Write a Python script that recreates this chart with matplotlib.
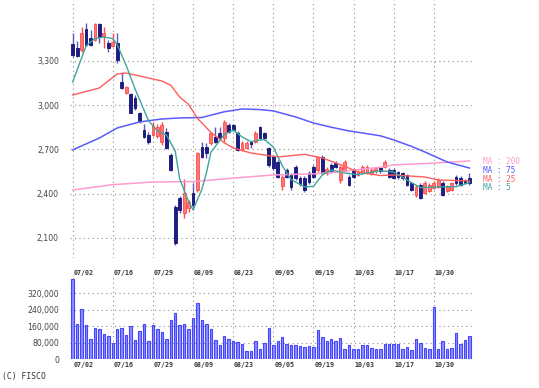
import matplotlib
matplotlib.use("Agg")
import matplotlib.pyplot as plt
import matplotlib.transforms as mtransforms

# daily candles, 2024-07-02 .. 2024-11-12 (90 trading days)
opens = [3418, 3386, 3375, 3515, 3454, 3443, 3551, 3472, 3424, 3402,
         3420, 3159, 3085, 3076, 3047, 2949, 2831, 2798, 2798, 2791,
         2750, 2818, 2662, 2309, 2370, 2268, 2302, 2404, 2424, 2716,
         2716, 2743, 2784, 2811, 2777, 2865, 2865, 2811, 2696, 2709,
         2747, 2750, 2852, 2811, 2709, 2648, 2614, 2451, 2560, 2526,
         2580, 2506, 2506, 2540, 2580, 2560, 2648, 2540, 2594, 2607,
         2492, 2560, 2512, 2560, 2526, 2540, 2540, 2533, 2550, 2570,
         2580, 2560, 2560, 2546, 2540, 2526, 2472, 2390, 2458, 2404,
         2417, 2438, 2444, 2472, 2417, 2424, 2512, 2506, 2492, 2506]
highs = [3488, 3438, 3529, 3556, 3510, 3556, 3556, 3533, 3443, 3488,
         3488, 3227, 3130, 3080, 3069, 2956, 2872, 2820, 2888, 2872,
         2886, 2845, 2675, 2322, 2383, 2499, 2356, 2472, 2682, 2750,
         2741, 2820, 2854, 2854, 2899, 2877, 2872, 2825, 2757, 2757,
         2752, 2825, 2859, 2818, 2716, 2662, 2628, 2526, 2573, 2540,
         2594, 2519, 2519, 2553, 2594, 2655, 2662, 2580, 2607, 2621,
         2594, 2628, 2526, 2573, 2560, 2594, 2594, 2573, 2580, 2580,
         2628, 2573, 2573, 2553, 2546, 2533, 2478, 2458, 2472, 2485,
         2472, 2485, 2506, 2485, 2458, 2478, 2526, 2519, 2499, 2540]
lows = [3329, 3325, 3361, 3402, 3402, 3438, 3420, 3386, 3363, 3395,
        3289, 3108, 3076, 2945, 2967, 2881, 2775, 2736, 2790, 2777,
        2730, 2702, 2553, 2051, 2268, 2234, 2275, 2288, 2411, 2641,
        2641, 2730, 2741, 2768, 2752, 2809, 2825, 2689, 2689, 2702,
        2709, 2743, 2770, 2764, 2580, 2560, 2506, 2424, 2506, 2424,
        2492, 2451, 2411, 2465, 2506, 2546, 2526, 2526, 2540, 2573,
        2472, 2553, 2451, 2506, 2519, 2533, 2533, 2526, 2540, 2540,
        2573, 2506, 2499, 2499, 2492, 2451, 2417, 2377, 2363, 2397,
        2411, 2431, 2438, 2383, 2411, 2417, 2458, 2451, 2465, 2458]
closes = [3341, 3334, 3488, 3409, 3409, 3551, 3461, 3488, 3386, 3431,
          3307, 3115, 3121, 2949, 2979, 2895, 2786, 2752, 2859, 2852,
          2865, 2709, 2560, 2064, 2288, 2404, 2343, 2322, 2675, 2648,
          2675, 2811, 2750, 2777, 2886, 2818, 2831, 2696, 2743, 2743,
          2736, 2811, 2777, 2777, 2594, 2573, 2512, 2512, 2512, 2444,
          2506, 2465, 2424, 2478, 2512, 2648, 2540, 2567, 2546, 2580,
          2580, 2614, 2458, 2512, 2546, 2580, 2577, 2560, 2570, 2550,
          2614, 2512, 2506, 2512, 2506, 2458, 2424, 2444, 2370, 2472,
          2458, 2472, 2492, 2390, 2451, 2472, 2472, 2458, 2472, 2472]
volumes = [388000, 170000, 244000, 165000, 100000, 152000, 145000, 121000, 112000, 78000,
           145000, 152000, 116000, 162000, 92000, 137000, 170000, 89000, 166000, 145000,
           132000, 100000, 189000, 223000, 165000, 171000, 145000, 202000, 275000, 189000,
           170000, 149000, 92000, 68000, 115000, 97000, 89000, 82000, 73000, 40000,
           40000, 89000, 52000, 78000, 154000, 69000, 89000, 108000, 73000, 68000,
           68000, 63000, 58000, 63000, 58000, 141000, 108000, 89000, 97000, 89000,
           105000, 52000, 68000, 52000, 48000, 68000, 68000, 57000, 48000, 48000,
           76000, 76000, 73000, 73000, 48000, 60000, 45000, 97000, 81000, 57000,
           52000, 254000, 52000, 89000, 52000, 57000, 129000, 76000, 94000, 113000]

# moving averages: (bar index, value)
ma5_idx = [0, 2, 3, 5, 7, 9, 10, 12, 14, 17, 19, 21, 23, 24, 26, 27, 29, 30, 31, 34, 36,
           38, 40, 43, 45, 47, 49, 52, 54, 56, 58, 61, 64, 69, 72, 76, 78, 83, 86, 89]
ma5_val = [3157, 3320, 3402, 3452, 3463, 3452, 3410, 3270, 3110, 2895, 2825, 2798, 2690,
           2500, 2345, 2290, 2430, 2540, 2680, 2800, 2831, 2784, 2752, 2768, 2716, 2590,
           2495, 2445, 2448, 2526, 2560, 2540, 2528, 2555, 2546, 2474, 2440, 2446, 2446, 2474]
ma25_idx = [0, 6, 10, 12, 15, 18, 20, 22, 24, 26, 28, 31, 34, 36, 40, 46, 50, 52, 56,
            61, 64, 69, 72, 79, 82, 89]
ma25_val = [3069, 3117, 3212, 3218, 3198, 3178, 3164, 3135, 3055, 3005, 2910, 2815, 2745,
            2709, 2675, 2648, 2660, 2666, 2641, 2585, 2546, 2522, 2526, 2512, 2492, 2485]
ma75_idx = [0, 6, 10, 15, 20, 24, 29, 31, 34, 38, 42, 45, 50, 54, 58, 62, 65, 69, 72, 76,
            79, 84, 89]
ma75_val = [2696, 2777, 2845, 2886, 2906, 2913, 2916, 2932, 2955, 2974, 2970, 2961, 2920,
            2879, 2850, 2825, 2811, 2792, 2764, 2720, 2682, 2614, 2573]
ma200_idx = [0, 9, 18, 27, 36, 45, 54, 61, 64, 69, 72, 80, 89]
ma200_val = [2424, 2460, 2478, 2481, 2504, 2526, 2533, 2550, 2562, 2578, 2594, 2605, 2621]

label_idx = [0, 9, 18, 27, 36, 45, 54, 63, 72, 81]
label_txt = ["07/02", "07/16", "07/29", "08/09", "08/23", "09/05", "09/19", "10/03", "10/17", "10/30"]
price_ticks = [2100, 2400, 2700, 3000, 3300]
vol_ticks = [0, 80000, 160000, 240000, 320000]

up_face, up_edge = "#ff7878", "#ff4a4a"
dn_face, dn_edge = "#1c1c8a", "#12126e"
grid_kw = dict(color="#8e8e8e", linestyle=(0, (1, 3)), linewidth=0.8)

fig = plt.figure(figsize=(5.39, 3.88), dpi=100)
ax = fig.add_axes([70 / 539, 130 / 388, 403 / 539, 258 / 388])
axv = fig.add_axes([70 / 539, 28.7 / 388, 403 / 539, 82.3 / 388])

n = len(closes)
xs = list(range(n))
for i in xs:
    o, h, l, c = opens[i], highs[i], lows[i], closes[i]
    up = c >= o
    ax.vlines(i, l, h, color=up_edge if up else "#5a5ab8", linewidth=1, zorder=2)
    ax.bar(i, max(abs(c - o), 4), bottom=min(o, c), width=0.62,
           color=up_face if up else dn_face, edgecolor=up_edge if up else dn_edge,
           linewidth=0.6, zorder=3)

ax.plot(ma200_idx, ma200_val, color="#ff9ccc", lw=1.1, zorder=4)
ax.plot(ma75_idx, ma75_val, color="#5a5aff", lw=1.1, zorder=4)
ax.plot(ma25_idx, ma25_val, color="#ff5c5c", lw=1.0, zorder=4)
ax.plot(ma5_idx, ma5_val, color="#3fa59c", lw=1.0, zorder=5)

mono = "DejaVu Sans Mono"
ax.text(92, 2614, "MA : 200", color="#ff9ccc", fontsize=5.5, family=mono, va="center", clip_on=False)
ax.text(92, 2556, "MA : 75", color="#5a5aff", fontsize=5.5, family=mono, va="center", clip_on=False)
ax.text(92, 2496, "MA : 25", color="#ff5c5c", fontsize=5.5, family=mono, va="center", clip_on=False)
ax.text(92, 2438, "MA : 5", color="#3fa59c", fontsize=5.5, family=mono, va="center", clip_on=False)

ax.set_xlim(-0.6, 89.8)
ax.set_ylim(1962, 3714)
ax.set_yticks(price_ticks)
ax.set_yticklabels([f"{t:,}" for t in price_ticks], fontsize=5.6, color="#444444")
ax.set_xticks(label_idx)
ax.set_xticklabels([])
ax.grid(True, **grid_kw)
ax.set_axisbelow(True)

axv.bar(xs, volumes, width=0.55, color="#8c8cff", edgecolor="#4646ff", linewidth=0.8, zorder=3)
axv.set_xlim(-0.6, 89.8)
axv.set_ylim(0, 400000)
axv.set_yticks(vol_ticks)
axv.set_yticklabels([f"{t:,}" for t in vol_ticks], fontsize=5.6, color="#444444")
axv.set_xticks(label_idx)
axv.set_xticklabels([])
axv.grid(True, **grid_kw)
axv.set_axisbelow(True)

for a in (ax, axv):
    for s in a.spines.values():
        s.set_visible(False)
    a.tick_params(length=0, pad=8)

trans = mtransforms.blended_transform_factory(axv.transData, axv.transAxes)
for i, t in zip(label_idx, label_txt):
    axv.text(i + 0.2, 1.05, t, transform=trans, fontsize=4.8, family=mono,
             fontweight="bold", color="#333333", va="center", ha="left")
    axv.text(i + 0.2, -0.07, t, transform=trans, fontsize=4.8, family=mono,
             fontweight="bold", color="#333333", va="center", ha="left")

fig.text(2 / 539, 1 - 377 / 388, "(C) FISCO", fontsize=5.8, family=mono,
         color="#333333", va="center", ha="left")

fig.savefig("out.png", dpi=100)
